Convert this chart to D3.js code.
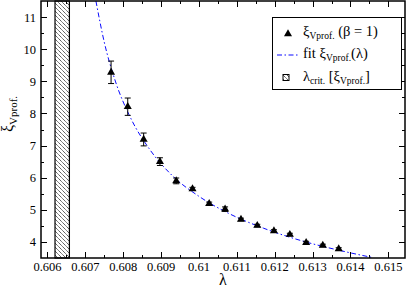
<!DOCTYPE html>
<html>
<head>
<meta charset="utf-8">
<script src="https://cdn.jsdelivr.net/npm/d3@7"></script>
<style>
  html, body { margin: 0; padding: 0; background: #fff; }
  svg { display: block; font-family: "Liberation Serif", "DejaVu Serif", serif; }
</style>
</head>
<body>
<div id="chart"></div>
<script>
(function (d3) {
    'use strict';

    // measured points
    var lambdaVals = [0.60768, 0.60812, 0.60854, 0.60897, 0.60940, 0.60983, 0.61027, 0.61069,
                      0.61111, 0.61154, 0.61198, 0.61240, 0.61283, 0.61327, 0.61369];
    var xiVals = [9.28, 8.21, 7.19, 6.50, 5.90, 5.65, 5.19, 5.02, 4.70, 4.51, 4.34, 4.23, 3.98, 3.89, 3.78];
    var xiErr = [0.35, 0.27, 0.20, 0.12, 0.09, 0.05, 0.05, 0.07, 0.04, 0.04, 0.04, 0.04, 0.04, 0.04, 0.04];

    // fit curve
    var fitLambda = [0.60728, 0.6075, 0.6078, 0.6082, 0.6087, 0.6093, 0.6100, 0.6108, 0.6117, 0.6127, 0.6137, 0.6146];
    var fitXi = [11.5, 10.22, 8.98, 7.85, 6.88, 6.06, 5.42, 4.88, 4.43, 4.04, 3.74, 3.51];

    // critical band
    var bandLambda = [0.60620, 0.60658];

    var xTicks = [0.606, 0.607, 0.608, 0.609, 0.610, 0.611, 0.612, 0.613, 0.614, 0.615];
    var xTickLabels = ['0.606', '0.607', '0.608', '0.609', '0.61', '0.611', '0.612', '0.613', '0.614', '0.615'];
    var yTicks = [4, 5, 6, 7, 8, 9, 10, 11];

    var width = 407, height = 287,
        left = 41, right = 405, top = 1, bottom = 258;

    var x = d3.scaleLinear().domain([0.60583, 0.61544]).range([left, right]);
    var y = d3.scaleLinear().domain([3.5, 11.5]).range([bottom, top]);

    var svg = d3.select('#chart').append('svg')
        .attr('width', width)
        .attr('height', height);

    var defs = svg.append('defs');
    defs.append('clipPath').attr('id', 'plotClip')
        .append('rect')
        .attr('x', left).attr('y', top)
        .attr('width', right - left).attr('height', bottom - top);

    defs.append('pattern')
        .attr('id', 'hatch')
        .attr('patternUnits', 'userSpaceOnUse')
        .attr('width', 4).attr('height', 4)
        .append('path')
        .attr('d', 'M-1,-1 l2,2 M0,0 l4,4 M3,3 l2,2')
        .attr('stroke', '#555')
        .attr('stroke-width', 0.7);

    // band
    svg.append('rect')
        .attr('x', x(bandLambda[0]))
        .attr('y', top)
        .attr('width', x(bandLambda[1]) - x(bandLambda[0]))
        .attr('height', bottom - top)
        .attr('fill', 'url(#hatch)')
        .attr('stroke', '#000')
        .attr('stroke-width', 1.2);

    // ticks (inside, mirrored)
    var minorX = xTicks.slice(0, -1).map(function (d) { return d + 0.0005; });
    minorX.unshift(0.6055);
    minorX.push(0.6155);
    var minorY = yTicks.map(function (d) { return d - 0.5; }).concat([11.5]);

    var tickG = svg.append('g').attr('stroke', '#000').attr('stroke-width', 1);
    function xTick(v, len) {
        if (v < x.domain()[0] || v > x.domain()[1]) return;
        var px = Math.round(x(v)) + 0.5;
        tickG.append('line').attr('x1', px).attr('x2', px).attr('y1', bottom).attr('y2', bottom - len);
        tickG.append('line').attr('x1', px).attr('x2', px).attr('y1', top).attr('y2', top + len);
    }
    function yTick(v, len) {
        if (v <= y.domain()[0] || v >= y.domain()[1]) return;
        var py = Math.round(y(v)) + 0.5;
        tickG.append('line').attr('x1', left).attr('x2', left + len).attr('y1', py).attr('y2', py);
        tickG.append('line').attr('x1', right).attr('x2', right - len).attr('y1', py).attr('y2', py);
    }
    xTicks.forEach(function (d) { xTick(d, 6); });
    minorX.forEach(function (d) { xTick(d, 3); });
    yTicks.forEach(function (d) { yTick(d, 6); });
    minorY.forEach(function (d) { yTick(d, 3); });

    // tick labels
    svg.append('g').selectAll('text')
        .data(xTicks)
        .enter().append('text')
        .attr('x', function (d) { return x(d); })
        .attr('y', 271)
        .attr('text-anchor', 'middle')
        .attr('font-size', 12.5)
        .text(function (d, i) { return xTickLabels[i]; });

    svg.append('g').selectAll('text')
        .data(yTicks)
        .enter().append('text')
        .attr('x', 36)
        .attr('y', function (d) { return y(d) + 4.5; })
        .attr('text-anchor', 'end')
        .attr('font-size', 12.5)
        .text(function (d) { return d; });

    // axis titles
    svg.append('text')
        .attr('x', 223)
        .attr('y', 285)
        .attr('text-anchor', 'middle')
        .attr('font-size', 16)
        .text('λ');

    var yTitle = svg.append('text')
        .attr('transform', 'translate(13,114) rotate(-90)')
        .attr('text-anchor', 'middle')
        .attr('font-size', 16);
    yTitle.append('tspan').text('ξ');
    yTitle.append('tspan').attr('dy', 4).attr('font-size', 11).text('Vprof.');

    // fit curve
    var line = d3.line()
        .x(function (d) { return x(d[0]); })
        .y(function (d) { return y(d[1]); })
        .curve(d3.curveMonotoneX);

    svg.append('path')
        .datum(d3.zip(fitLambda, fitXi))
        .attr('clip-path', 'url(#plotClip)')
        .attr('d', line)
        .attr('fill', 'none')
        .attr('stroke', '#0a0aff')
        .attr('stroke-width', 1)
        .attr('stroke-dasharray', '5,2.5,1.5,2.5');

    // error bars + markers
    var pts = d3.zip(lambdaVals, xiVals, xiErr);
    var errG = svg.append('g').attr('stroke', '#000').attr('stroke-width', 1);
    pts.forEach(function (p) {
        var px = x(p[0]), y1 = y(p[1] + p[2]), y2 = y(p[1] - p[2]);
        errG.append('line').attr('x1', px).attr('x2', px).attr('y1', y1).attr('y2', y2);
        errG.append('line').attr('x1', px - 3).attr('x2', px + 3).attr('y1', y1).attr('y2', y1);
        errG.append('line').attr('x1', px - 3).attr('x2', px + 3).attr('y1', y2).attr('y2', y2);
    });

    var tri = d3.symbol().type(d3.symbolTriangle).size(28);
    svg.append('g').selectAll('path')
        .data(pts)
        .enter().append('path')
        .attr('transform', function (d) { return 'translate(' + x(d[0]) + ',' + y(d[1]) + ')'; })
        .attr('d', tri)
        .attr('fill', '#000');

    // frame
    svg.append('rect')
        .attr('x', left).attr('y', top)
        .attr('width', right - left).attr('height', bottom - top)
        .attr('fill', 'none')
        .attr('stroke', '#000')
        .attr('stroke-width', 1.5);

    // legend
    var lg = svg.append('g');
    lg.append('rect')
        .attr('x', 272.5).attr('y', 17.5)
        .attr('width', 129).attr('height', 72)
        .attr('fill', '#fff')
        .attr('stroke', '#000')
        .attr('stroke-width', 1);

    lg.append('path')
        .attr('transform', 'translate(288,34)')
        .attr('d', tri)
        .attr('fill', '#000');
    var t1 = lg.append('text').attr('x', 303).attr('y', 36).attr('font-size', 14.5);
    t1.append('tspan').text('ξ');
    t1.append('tspan').attr('dy', 3).attr('font-size', 9.5).text('Vprof.');
    t1.append('tspan').attr('dy', -3).text(' (β = 1)');

    lg.append('line')
        .attr('x1', 277).attr('x2', 298).attr('y1', 55).attr('y2', 55)
        .attr('stroke', '#0a0aff')
        .attr('stroke-width', 1)
        .attr('stroke-dasharray', '5,2.5,1.5,2.5');
    var t2 = lg.append('text').attr('x', 303).attr('y', 58).attr('font-size', 14.5);
    t2.append('tspan').text('fit ξ');
    t2.append('tspan').attr('dy', 3).attr('font-size', 9.5).text('Vprof.');
    t2.append('tspan').attr('dy', -3).text('(λ)');

    lg.append('rect')
        .attr('x', 283).attr('y', 74.5)
        .attr('width', 6).attr('height', 6)
        .attr('fill', 'url(#hatch)')
        .attr('stroke', '#000')
        .attr('stroke-width', 1);
    var t3 = lg.append('text').attr('x', 303).attr('y', 81).attr('font-size', 14.5);
    t3.append('tspan').text('λ');
    t3.append('tspan').attr('dy', 3).attr('font-size', 9.5).text('crit.');
    t3.append('tspan').attr('dy', -3).text('  [ξ');
    t3.append('tspan').attr('dy', 3).attr('font-size', 9.5).text('Vprof.');
    t3.append('tspan').attr('dy', -3).text(']');
})(d3);
</script>
</body>
</html>
